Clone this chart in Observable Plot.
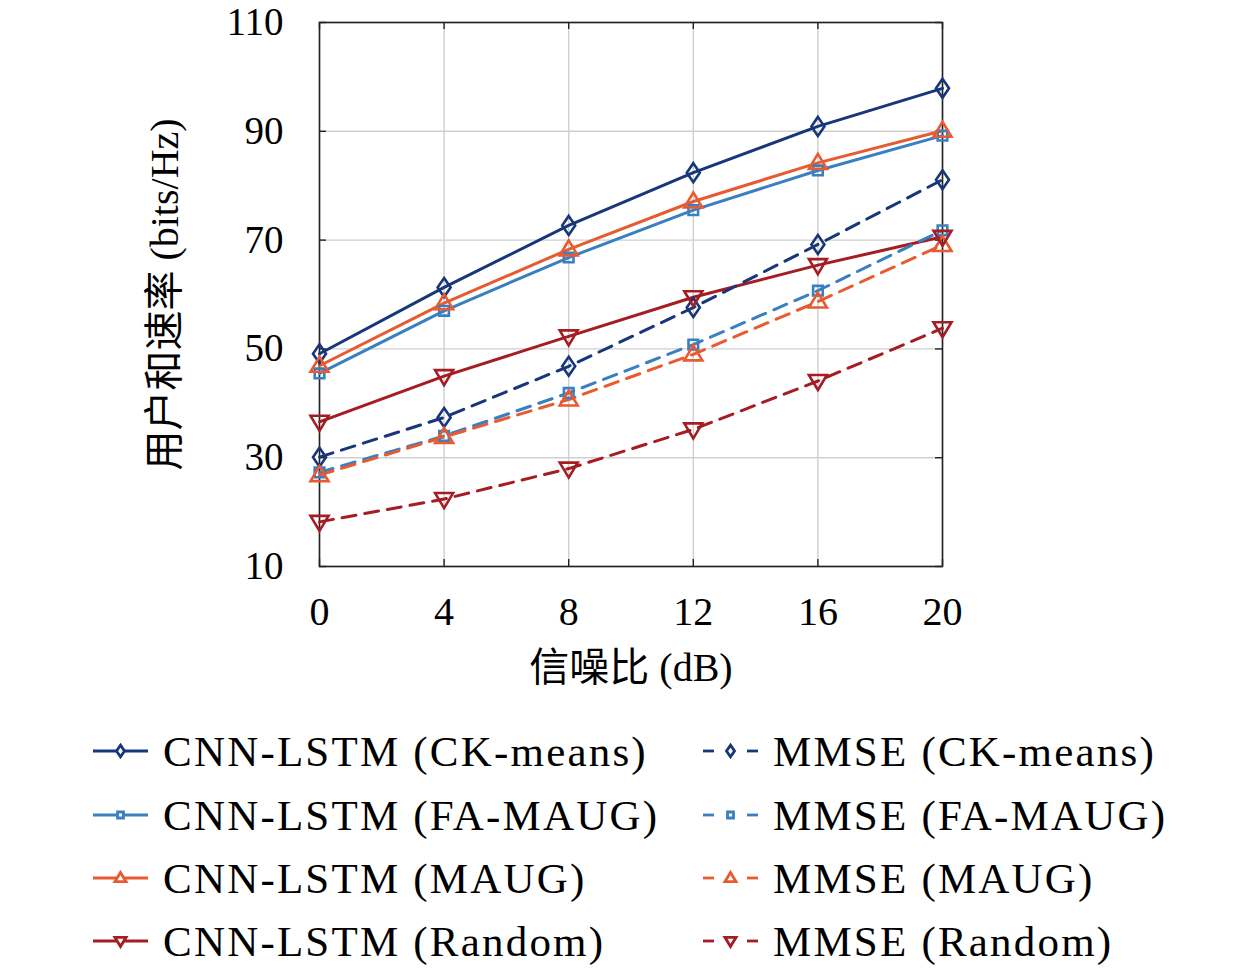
<!DOCTYPE html>
<html>
<head>
<meta charset="utf-8">
<script src="https://cdn.jsdelivr.net/npm/d3@7"></script>
<script src="https://cdn.jsdelivr.net/npm/@observablehq/plot@0.6"></script>
<style>
  html, body { margin: 0; padding: 0; background: #fff; }
  #wrap { position: relative; width: 1260px; height: 972px; overflow: hidden; }
  .lg { position: absolute; height: 60px; display: flex; align-items: center;
        font-family: "Liberation Serif", "Noto Sans CJK SC", serif; font-size: 43px; letter-spacing: 2.2px; color: #000; white-space: nowrap; }
</style>
</head>
<body>
<div id="wrap"></div>
<script>
// ---- data ----
const snr = [0, 4, 8, 12, 16, 20];
const cnnCK     = [49.1, 61.3, 72.7, 82.4, 90.9, 97.9];
const cnnFA     = [45.5, 57.0, 66.8, 75.5, 82.8, 89.2];
const cnnMAUG   = [46.9, 58.4, 68.3, 77.1, 84.2, 90.1];
const cnnRandom = [36.6, 45.0, 52.3, 59.5, 65.4, 70.6];
const mmseCK     = [30.1, 37.4, 46.8, 57.6, 69.2, 81.1];
const mmseFA     = [27.3, 34.0, 41.9, 50.8, 60.7, 71.8];
const mmseMAUG   = [26.8, 33.8, 40.7, 49.0, 58.7, 69.1];
const mmseRandom = [18.2, 22.4, 28.0, 35.2, 44.1, 53.8];
const xTicks = [0, 4, 8, 12, 16, 20];
const yTicks = [10, 30, 50, 70, 90, 110];
const algos = ["CK-means", "FA-MAUG", "MAUG", "Random"];
const methods = ["CNN-LSTM", "MMSE"];
const colors = ["#17377a", "#3a7fc0", "#e85b30", "#a51c22"];
const yLabel = "用户和速率 (bits/Hz)";
const xLabel = "信噪比 (dB)";

const seriesValues = {
  "CNN-LSTM": [cnnCK, cnnFA, cnnMAUG, cnnRandom],
  "MMSE": [mmseCK, mmseFA, mmseMAUG, mmseRandom]
};

const table = [];
for (const m of methods) {
  algos.forEach((a, i) => {
    seriesValues[m][i].forEach((v, j) => {
      table.push({snr: snr[j], rate: v, method: m, algo: a, series: `${m} (${a})`});
    });
  });
}

// ---- custom symbols ----
function sym(points) {
  return { draw(ctx, size) {
    const k = Math.sqrt(size / Math.PI) / 10;
    ctx.moveTo(points[0][0] * k, points[0][1] * k);
    for (let i = 1; i < points.length; i++) ctx.lineTo(points[i][0] * k, points[i][1] * k);
    ctx.closePath();
  }};
}
const symbolPts = {
  "CK-means": [[0, -9.5], [6.5, 0], [0, 9.5], [-6.5, 0]],
  "FA-MAUG": [[-4.8, -4.8], [4.8, -4.8], [4.8, 4.8], [-4.8, 4.8]],
  "MAUG": [[0, -9], [9, 6], [-9, 6]],
  "Random": [[0, 9], [9, -6], [-9, -6]]
};

const W = 1260, H = 718;
const mL = 319, mR = 318, mT = 22, mB = 152;
const frameW = W - mL - mR, frameH = H - mT - mB;
const font = "'Liberation Serif', 'Noto Sans CJK SC', serif";

const colorScale = {domain: algos, range: colors};

const marks = [
  Plot.gridX(xTicks, {stroke: "#cfcfcf", strokeOpacity: 1, strokeWidth: 1.4}),
  Plot.gridY(yTicks, {stroke: "#cfcfcf", strokeOpacity: 1, strokeWidth: 1.4}),
  // inward tick marks on all four sides
  Plot.ruleX(xTicks, {x: d => d, insetTop: frameH - 7, stroke: "#222", strokeWidth: 1.4}),
  Plot.ruleX(xTicks, {x: d => d, insetBottom: frameH - 7, stroke: "#222", strokeWidth: 1.4}),
  Plot.ruleY(yTicks, {y: d => d, insetRight: frameW - 7, stroke: "#222", strokeWidth: 1.4}),
  Plot.ruleY(yTicks, {y: d => d, insetLeft: frameW - 7, stroke: "#222", strokeWidth: 1.4}),
  Plot.frame({stroke: "#222", strokeWidth: 1.6}),
  Plot.axisX(xTicks, {tickSize: 0, tickPadding: 30, fontSize: 40, fontFamily: font, label: null, style: {letterSpacing: "1.5px"}}),
  Plot.axisY(yTicks, {tickSize: 0, tickPadding: 36, fontSize: 39, fontFamily: font, label: null, style: {letterSpacing: "1.5px"}}),
  Plot.text([yLabel], {frameAnchor: "left", textAnchor: "middle", dx: -154, rotate: -90, fontSize: 40, fontFamily: font, fill: "#000", style: {letterSpacing: "2px"}}),
  Plot.text([xLabel], {frameAnchor: "bottom", textAnchor: "middle", dy: 114, fontSize: 40, fontFamily: font, fill: "#000", style: {letterSpacing: "2.5px"}}),
  Plot.line(table.filter(d => d.method === "CNN-LSTM"), {x: "snr", y: "rate", z: "series", stroke: "algo", strokeWidth: 3}),
  Plot.line(table.filter(d => d.method === "MMSE"), {x: "snr", y: "rate", z: "series", stroke: "algo", strokeWidth: 3, strokeDasharray: "14,9"})
];
for (const a of algos) {
  marks.push(Plot.dot(table.filter(d => d.algo === a), {
    x: "snr", y: "rate", stroke: "algo", fill: "none", strokeWidth: 2.6, r: 10, symbol: sym(symbolPts[a])
  }));
}

const chart = Plot.plot({
  width: W, height: H,
  marginLeft: mL, marginRight: mR, marginTop: mT, marginBottom: mB,
  x: {domain: [0, 20]},
  y: {domain: [10, 110]},
  color: colorScale,
  style: {fontFamily: font, background: "#fff", color: "#000", overflow: "visible"},
  marks
});
const wrap = document.getElementById("wrap");
chart.style.position = "absolute";
chart.style.left = "0px";
chart.style.top = "0px";
wrap.appendChild(chart);

// ---- legend (HTML below the SVG) ----
const rowY = [751, 815, 878, 941];
const cols = [{sampleLeft: 88, textLeft: 163, method: "CNN-LSTM"}, {sampleLeft: 698, textLeft: 773, method: "MMSE"}];
cols.forEach(c => {
  algos.forEach((a, i) => {
    const col = colors[i];
    const svg = d3.select(wrap).append("svg")
      .attr("width", 66).attr("height", 30)
      .style("position", "absolute")
      .style("left", c.sampleLeft + "px")
      .style("top", (rowY[i] - 15) + "px");
    if (c.method === "CNN-LSTM") {
      svg.append("line").attr("x1", 5).attr("x2", 60).attr("y1", 15).attr("y2", 15)
        .attr("stroke", col).attr("stroke-width", 2.8);
    } else {
      svg.append("line").attr("x1", 5).attr("x2", 16).attr("y1", 15).attr("y2", 15)
        .attr("stroke", col).attr("stroke-width", 2.8);
      svg.append("line").attr("x1", 49).attr("x2", 60).attr("y1", 15).attr("y2", 15)
        .attr("stroke", col).attr("stroke-width", 2.8);
    }
    const pts = symbolPts[a].map(p => [32.5 + p[0] * 0.62, 15 + p[1] * 0.62]);
    svg.append("polygon").attr("points", pts.map(p => p.join(",")).join(" "))
      .attr("fill", "#fff").attr("stroke", col).attr("stroke-width", 2.8);
    d3.select(wrap).append("div").attr("class", "lg")
      .style("left", c.textLeft + "px")
      .style("top", (rowY[i] - 30) + "px")
      .text(`${c.method} (${a})`);
  });
});
</script>
</body>
</html>
